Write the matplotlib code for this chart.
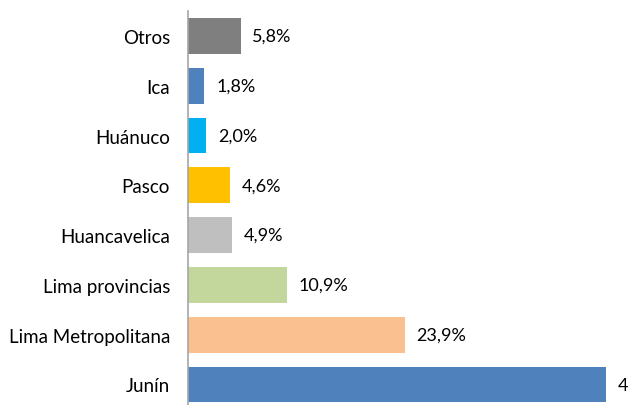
import matplotlib
matplotlib.use("Agg")
import matplotlib.pyplot as plt

# Data (top to bottom as drawn)
regions = ["Otros", "Ica", "Huánuco", "Pasco", "Huancavelica",
           "Lima provincias", "Lima Metropolitana", "Junín"]
shares = [5.8, 1.8, 2.0, 4.6, 4.9, 10.9, 23.9, 46.1]
labels = ["5,8%", "1,8%", "2,0%", "4,6%", "4,9%", "10,9%", "23,9%", "46,1%"]
colors = ["#7F7F7F", "#4F81BD", "#00B0F0", "#FFC000", "#BFBFBF",
          "#C3D69B", "#FAC090", "#4F81BD"]

plt.rcParams["font.family"] = ["Lato", "DejaVu Sans"]

W, H = 628, 406
fig = plt.figure(figsize=(W / 100, H / 100), dpi=100)

# the axes runs past the bottom and right edges (chart is cropped)
left, top = 188, 12
px_per_unit = 9.07
xmax = 50
step = 49.8
ax_w = xmax * px_per_unit
ax_h = len(regions) * step
ax = fig.add_axes([left / W, 1 - (top + ax_h) / H, ax_w / W, ax_h / H])

ypos = list(range(len(regions)))
ax.barh(ypos, shares, height=0.72, color=colors)
ax.set_ylim(len(regions) - 0.5, -0.5)
ax.set_xlim(0, xmax)

for y, v, lab in zip(ypos, shares, labels):
    ax.annotate(lab, (v, y), xytext=(8.5, 0), textcoords="offset points",
                va="center", ha="left", fontsize=13, color="black")

ax.set_yticks(ypos)
ax.set_yticklabels(regions, fontsize=13.5)
ax.tick_params(axis="y", length=0, pad=13)
ax.set_xticks([])
for s in ["top", "right", "bottom"]:
    ax.spines[s].set_visible(False)
ax.spines["left"].set_color("#A6A6A6")
ax.spines["left"].set_linewidth(1.2)

# title sits above the cropped top edge; only its descenders show
fig.text(288 / W, 1.0 + 6 / H, "(Participación porcentual)", ha="center",
         va="baseline", fontsize=13.5)

fig.savefig("out.png", dpi=100)
